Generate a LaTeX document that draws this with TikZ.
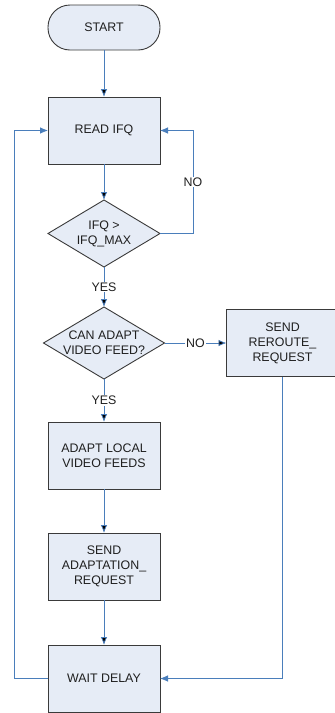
\documentclass[tikz,border=0pt]{standalone}
\usepackage{fontspec}
\setmainfont{Liberation Sans}
\usepackage{tikz}
\usetikzlibrary{arrows, arrows.meta, shapes, shapes.geometric, positioning}
\definecolor{boxfill}{HTML}{E6ECF6}
\definecolor{boxline}{HTML}{3A3A3A}
\definecolor{flowline}{HTML}{4A7EBB}

\begin{document}
\begin{tikzpicture}[
        block/.style={rectangle, draw=boxline, fill=boxfill, line width=0.9pt, minimum width=112pt, minimum height=67pt, inner sep=0pt, outer sep=0pt, align=center, text=black!88, font=\fontsize{12.4}{15}\selectfont},
        terminal/.style={block, rounded corners=22pt, minimum height=45pt},
        decision/.style={diamond, draw=boxline, fill=boxfill, line width=0.9pt, aspect=1.68, inner sep=-3pt, outer sep=0pt, align=center, text=black!88, font=\fontsize{12.4}{15}\selectfont},
        flow/.style={draw=flowline, line width=0.8pt, -{Latex[length=8pt, width=6.5pt]}},
        tag/.style={fill=white, inner sep=1pt, text=black!88, font=\fontsize{12.4}{15}\selectfont}]
            \useasboundingbox (0,0) rectangle (335pt,-713pt);
            % \tikzstyle{every node}=[block]
            \node[terminal] (start) at (104pt,-27.5pt) {START};
            \node[block] (read) [below = 47pt of start] {READ IFQ};
            \node[decision, minimum width=112pt, minimum height=67pt] (chk) [below = 36pt of read] {IFQ >\\IFQ\_MAX};
            \node[decision, minimum width=121pt, minimum height=72pt] (canadapt) [below = 40pt of chk] {CAN ADAPT\\VIDEO FEED?};
            \node[block] (reroute) [right = 62pt of canadapt] {SEND\\REROUTE\_\\REQUEST};
            \node[block] (adapt) [below = 43pt of canadapt] {ADAPT LOCAL\\VIDEO FEEDS};
            \node[block] (sendadapt) [below = 44pt of adapt] {SEND\\ADAPTATION\_\\REQUEST};
            \node[block] (wait) [below = 45pt of sendadapt] {WAIT DELAY};

            \path[flow]  (start) edge (read);
            \path[flow]  (read) edge (chk);
            \path[flow]  (chk) edge node[tag] {YES} (canadapt);
            \path[flow]  (canadapt) edge node[tag] {YES} (adapt);
            \path[flow]  (canadapt) edge node[tag] {NO} (reroute);
            \path[flow]  (adapt) edge (sendadapt);
            \path[flow]  (sendadapt) edge (wait);
            \draw[flow]  (chk.east) -- ++(33pt,0) |- node[tag, pos=0.25] {NO} (read.east);
            \draw[flow]  (reroute.south) |- (wait.east);
            \draw[flow]  (wait.west) -- ++(-34pt,0) |- (read.west);
        \end{tikzpicture}
\end{document}
